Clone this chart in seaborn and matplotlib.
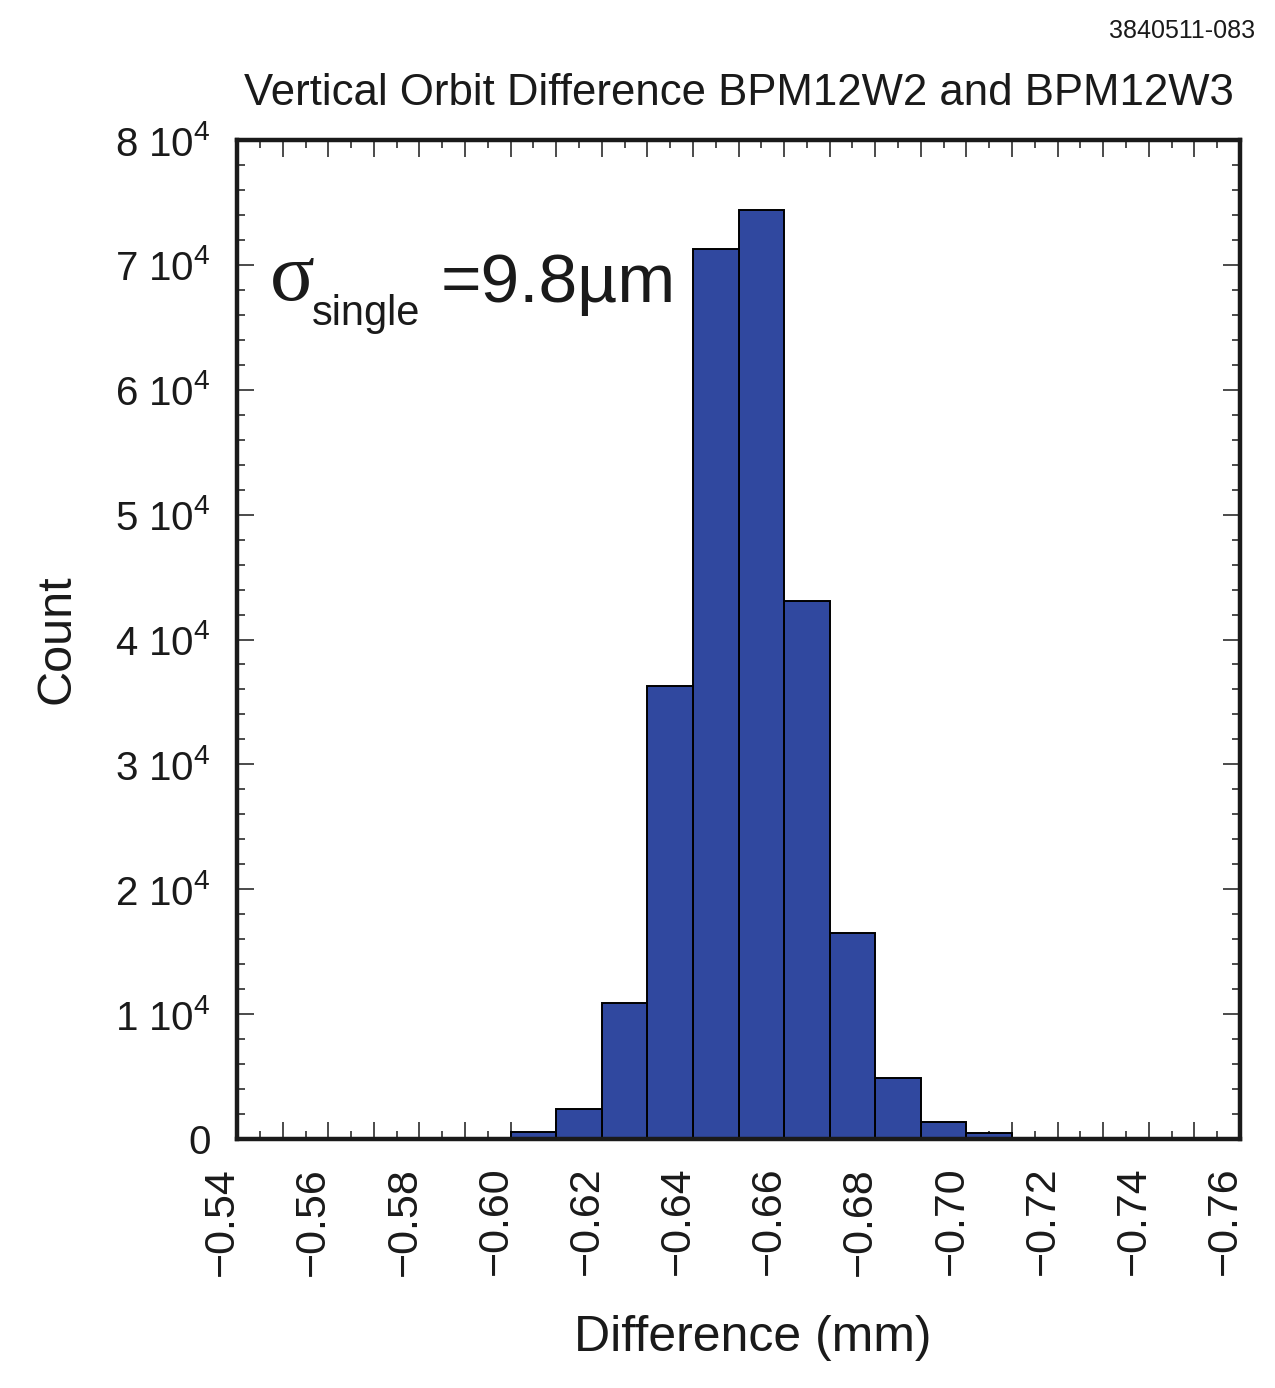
import numpy as np
import matplotlib
matplotlib.use("Agg")
import matplotlib.pyplot as plt
import matplotlib.transforms as mtransforms
from matplotlib.ticker import MultipleLocator
import seaborn as sns

# histogram bins (mm) and counts per bin
bin_edges = [-0.73, -0.72, -0.71, -0.70, -0.69, -0.68, -0.67, -0.66,
             -0.65, -0.64, -0.63, -0.62, -0.61, -0.60, -0.59]
counts = [30, 100, 450, 1350, 4900, 16500, 43100, 74400,
          71300, 36300, 10900, 2400, 600, 80]

x_ticks = [-0.54, -0.55, -0.56, -0.57, -0.58, -0.59, -0.60, -0.61, -0.62,
           -0.63, -0.64, -0.65, -0.66, -0.67, -0.68, -0.69, -0.70, -0.71,
           -0.72, -0.73, -0.74, -0.75, -0.76]
x_tick_labels = ['\u22120.54', '', '\u22120.56', '', '\u22120.58', '', '\u22120.60', '',
                 '\u22120.62', '', '\u22120.64', '', '\u22120.66', '', '\u22120.68', '',
                 '\u22120.70', '', '\u22120.72', '', '\u22120.74', '', '\u22120.76']
y_ticks = [0, 10000, 20000, 30000, 40000, 50000, 60000, 70000, 80000]
y_tick_labels = ['0', '1 10$^4$', '2 10$^4$', '3 10$^4$', '4 10$^4$',
                 '5 10$^4$', '6 10$^4$', '7 10$^4$', '8 10$^4$']

sns.set_style("ticks")
plt.rcParams['font.family'] = ['Liberation Sans', 'DejaVu Sans']
plt.rcParams['mathtext.fontset'] = 'custom'
plt.rcParams['mathtext.rm'] = 'Liberation Sans'
plt.rcParams['mathtext.default'] = 'regular'

fig = plt.figure(figsize=(12.75, 13.88), dpi=100)
ax = fig.add_axes([0.186, 0.1794, 0.7865, 0.7197])

centers = [(a + b) / 2 for a, b in zip(bin_edges[:-1], bin_edges[1:])]
sns.histplot(x=centers, weights=counts, bins=bin_edges, color='#30489f',
             edgecolor='black', linewidth=1.4, alpha=1, ax=ax)

ax.set_xlim(-0.54, -0.76)
ax.set_ylim(0, 80000)

ax.set_xticks(x_ticks)
ax.set_xticklabels(x_tick_labels, rotation=90, fontsize=31)
ax.xaxis.set_minor_locator(MultipleLocator(0.005))
ax.set_yticks(y_ticks)
ax.set_yticklabels(y_tick_labels, fontsize=29)
ax.yaxis.set_minor_locator(MultipleLocator(2000))

ax.tick_params(which='both', direction='in', top=True, right=True,
               colors='#1a1a1a', labelcolor='#1a1a1a')
ax.tick_params(which='major', length=12, width=1.1)
ax.tick_params(which='minor', length=6, width=1.1)
ax.tick_params(axis='x', which='major', pad=20)
ax.tick_params(axis='y', which='major', pad=19)

shift = mtransforms.ScaledTranslation(-0.15, 0, fig.dpi_scale_trans)
for lab in ax.get_xticklabels():
    lab.set_transform(lab.get_transform() + shift)

for sp in ax.spines.values():
    sp.set_linewidth(3.2)
    sp.set_color('#1a1a1a')

ax.set_xlabel('Difference (mm)', fontsize=36, color='#1a1a1a')
ax.set_ylabel('Count', fontsize=35, color='#1a1a1a')
ax.xaxis.set_label_coords(0.514, -0.176)
ax.yaxis.set_label_coords(-0.157, 0.5)
ax.set_title('Vertical Orbit Difference BPM12W2 and BPM12W3', fontsize=31.5,
             color='#1a1a1a', pad=25)

ax.text(0.033, 0.84, '\u03c3', transform=ax.transAxes, fontsize=60,
        family=['Liberation Serif', 'DejaVu Serif'], color='#1a1a1a', va='baseline')
ax.text(0.075, 0.815, 'single', transform=ax.transAxes, fontsize=30,
        color='#1a1a1a', va='baseline')
ax.text(0.203, 0.838, '=9.8\u00b5m', transform=ax.transAxes, fontsize=50,
        color='#1a1a1a', va='baseline')

fig.text(1255 / 1275, 1 - 38 / 1388, '3840511-083', fontsize=18,
         ha='right', va='baseline', color='#1a1a1a')

fig.savefig('out.png', dpi=100)
